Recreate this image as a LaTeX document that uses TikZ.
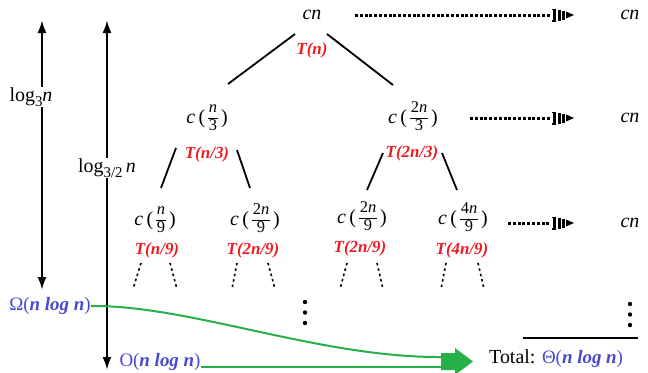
\documentclass[tikz,border=0pt]{standalone}
\usepackage{amsmath}
\usepackage{fontspec}
\setmainfont{Liberation Serif}
\usetikzlibrary{arrows.meta}

\definecolor{tred}{RGB}{236,28,36}
\definecolor{tblue}{RGB}{72,72,212}
\definecolor{tgreen}{RGB}{38,176,74}

% stacked fraction in text font
\newcommand\fracbox[2]{\ensuremath{\vcenter{\hbox{\fontsize{16.5}{16.5}\selectfont
  \setlength\arrayrulewidth{1pt}\setlength\tabcolsep{0.5pt}%
  \begin{tabular}{c}\rule{0pt}{10pt}#1\\[0pt]\hline\rule{0pt}{11.5pt}#2\end{tabular}}}}}
% c( num / den ) cost term
\newcommand\costterm[2]{\textit{c}\,(\,\fracbox{#1}{#2}\,)}

\tikzset{
  term/.style={font=\fontsize{20}{24}\selectfont, inner sep=0pt},
  tlab/.style={font=\fontsize{17}{20}\selectfont\bfseries\itshape, text=tred, inner sep=0pt},
  bound/.style={font=\fontsize{19}{23}\selectfont, text=tblue, inner sep=0pt},
  treeedge/.style={line width=1.8bp},
  subedge/.style={line width=1.6bp, dash pattern=on 2.5bp off 3bp},
  span/.style={line width=2.2bp, {Latex[length=13bp,width=9bp]}-{Latex[length=13bp,width=9bp]}},
  sumline/.style={line width=3bp, dash pattern=on 3bp off 1.8bp},
  gflow/.style={tgreen, line width=2bp},
  sumtip/.pic={
    % bracket
    \fill (-21,-6.5) rectangle (-18.5,6.5);
    \fill (-22.5,-6.5) rectangle (-18.5,-5);
    \fill (-22.5,5) rectangle (-18.5,6.5);
    % bars
    \fill (-16.5,-5.5) rectangle (-13.5,5.5);
    \fill (-12,-4.5) rectangle (-9.5,4.5);
    % point
    \fill (-8,-3.5) -- (0,0) -- (-8,3.5) -- cycle;
  },
  vdot/.style={circle, fill, inner sep=0pt, minimum size=4.4bp}
}

\begin{document}
\begin{tikzpicture}[x=1bp,y=-1bp]
\useasboundingbox (0,0) rectangle (648,372);

% ---- height arrows on the left ----
\coordinate (a1t) at (42,20);
\coordinate (a1b) at (42,290);
\coordinate (a2t) at (107,20);
\coordinate (a2b) at (107,370);
\draw[span] (a1t) -- (a1b);
\draw[span] (a2t) -- (a2b);
\node[term, fill=white, inner sep=1pt] (h1) at (31,97) {log\raisebox{-5pt}{\fontsize{15}{18}\selectfont 3}\textit{n}};
\node[term, fill=white, inner sep=1pt] (h2) at (107,168) {log\raisebox{-5pt}{\fontsize{15}{18}\selectfont 3/2}\,\textit{n}};

% ---- recursion tree ----
\node[term] (top) at (312,15) {\textit{cn}};
\node[tlab] (Ttop) at (312,50) {T(n)};

\node[term] (L) at (207,118) {\costterm{\textit{n}}{3}};
\node[tlab] (TL) at (207,154) {T(n/3)};
\node[term] (R) at (413,118) {\costterm{2\textit{n}}{3}};
\node[tlab] (TR) at (412,153) {T(2n/3)};

\node[term] (A) at (155,220) {\costterm{\textit{n}}{9}};
\node[tlab] (TA) at (157,250) {T(n/9)};
\node[term] (B) at (255,220) {\costterm{2\textit{n}}{9}};
\node[tlab] (TB) at (253,250) {T(2n/9)};
\node[term] (C) at (362,218) {\costterm{2\textit{n}}{9}};
\node[tlab] (TC) at (360,248) {T(2n/9)};
\node[term] (D) at (463,219) {\costterm{4\textit{n}}{9}};
\node[tlab] (TD) at (462,250) {T(4n/9)};

% level 0 -> level 1
\coordinate (e1s) at (295,34);  \coordinate (e1e) at (228,84);
\coordinate (e2s) at (327,34);  \coordinate (e2e) at (393,85);
\draw[treeedge] (e1s) -- (e1e);
\draw[treeedge] (e2s) -- (e2e);
% level 1 -> level 2
\coordinate (e3s) at (176,148); \coordinate (e3e) at (161,188);
\coordinate (e4s) at (237,150); \coordinate (e4e) at (250,188);
\coordinate (e5s) at (383,153); \coordinate (e5e) at (367,190);
\coordinate (e6s) at (442,153); \coordinate (e6e) at (457,190);
\draw[treeedge] (e3s) -- (e3e);
\draw[treeedge] (e4s) -- (e4e);
\draw[treeedge] (e5s) -- (e5e);
\draw[treeedge] (e6s) -- (e6e);
% level 2 -> further levels
\foreach \xa/\xb/\xc/\xd [count=\i] in {141/133/170/177, 237/232/268/275, 347/340/377/383, 446/441/478/484}{
  \coordinate (d\i a) at (\xa,263); \coordinate (d\i b) at (\xb,289);
  \coordinate (d\i c) at (\xc,263); \coordinate (d\i d) at (\xd,289);
  \draw[subedge] (d\i a) -- (d\i b);
  \draw[subedge] (d\i c) -- (d\i d);
}

% vertical ellipses
\node[vdot] (v1) at (305,302) {};
\node[vdot] (v2) at (305,312.5) {};
\node[vdot] (v3) at (305,323) {};
\node[vdot] (w1) at (630,304) {};
\node[vdot] (w2) at (630,314.5) {};
\node[vdot] (w3) at (630,325) {};

% ---- per-level sums ----
\node[term] (r1) at (630,15) {\textit{cn}};
\node[term] (r2) at (630,118) {\textit{cn}};
\node[term] (r3) at (630,223) {\textit{cn}};
\coordinate (s1) at (355,15);  \coordinate (t1) at (574,15);
\coordinate (s2) at (470,118); \coordinate (t2) at (574,118);
\coordinate (s3) at (508,223); \coordinate (t3) at (574,223);
\foreach \k in {1,2,3}{
  \draw[sumline] (s\k) -- ([xshift=-23]t\k);
  \pic at (t\k) {sumtip};
}

% total
\coordinate (rl) at (523,338); \coordinate (rr) at (638,338);
\draw[line width=1.5bp] (rl) -- (rr);
\node[term, anchor=west] (tot) at (489,359) {Total: {\color{tblue}\fontsize{19}{23}\selectfont Θ(\textbf{\textit{n log n}})}};

% ---- bounds ----
\node[bound] (om) at (50,306) {Ω(\textbf{\textit{n log n}})};
\node[bound] (bo) at (160,362) {O(\textbf{\textit{n log n}})};
\coordinate (g1) at (442,357);
\coordinate (g2) at (442,367);
\draw[gflow] (om.east) .. controls (190,305) and (320,358) .. (g1);
\draw[gflow] (bo.east |- g2) -- (g2);
\fill[tgreen] (441,353) -- (455,353) -- (455,348) -- (473,361.5) -- (455,375) -- (455,370) -- (441,370) -- cycle;
\end{tikzpicture}
\end{document}
